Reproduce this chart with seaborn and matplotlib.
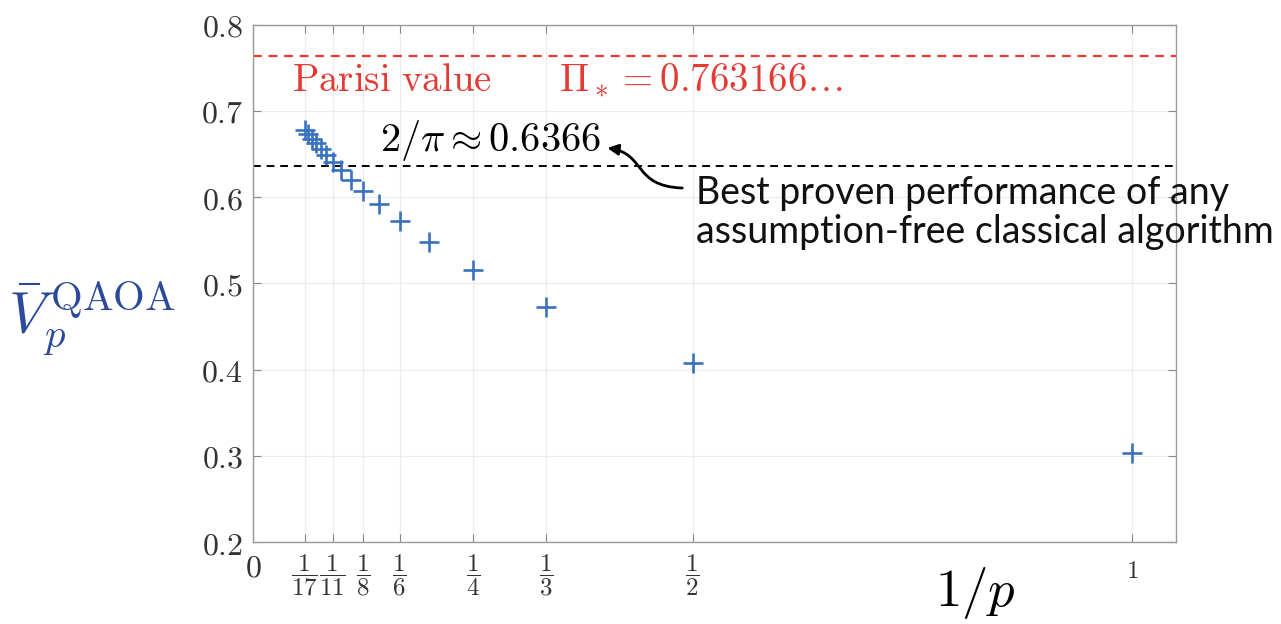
import numpy as np
import pandas as pd
import seaborn as sns
import matplotlib.pyplot as plt
from matplotlib.path import Path
from matplotlib.patches import FancyArrowPatch

sns.set_style("whitegrid")
plt.rcParams['mathtext.fontset'] = 'cm'
plt.rcParams['font.family'] = ['DejaVu Serif']

# QAOA levels and values
p = [1, 2, 3, 4, 5, 6, 7, 8, 9, 10, 11, 12, 13, 14, 15, 16, 17]
v = [0.3033, 0.4075, 0.4726, 0.5157, 0.5476, 0.5721, 0.5915, 0.6073, 0.6203,
     0.6314, 0.6408, 0.6490, 0.6561, 0.6623, 0.6679, 0.6729, 0.6773]
parisi = 0.763166
classical = 2 / np.pi

xtick_p = [17, 11, 8, 6, 4, 3, 2]
yticks = [0.2, 0.3, 0.4, 0.5, 0.6, 0.7, 0.8]

d = pd.DataFrame({'invp': [1 / k for k in p], 'V': v})

fig = plt.figure(figsize=(12.81, 6.24), dpi=100)
ax = fig.add_axes([0.1975, 0.1314, 0.7206, 0.8290])

ax.axhline(parisi, color='#e53a33', ls=(0, (4, 3)), lw=1.6, zorder=1)
ax.axhline(classical, color='black', ls=(0, (4, 3)), lw=1.4, zorder=1)

sns.scatterplot(data=d, x='invp', y='V', marker='+', s=200, color='#3a72bf',
                linewidth=1.9, ax=ax, zorder=3)

ax.set_xlim(0, 1.05)
ax.set_ylim(0.2, 0.8)

xt = [0] + [1 / k for k in xtick_p] + [1]
ax.set_xticks(xt)
ax.set_xticklabels([''] * len(xt))
xtr = ax.get_xaxis_transform()
for k in xtick_p:
    ax.text(1 / k, -0.02, r'$\dfrac{1}{%d}$' % k, transform=xtr,
            ha='center', va='top', fontsize=18, color='#333333')
ax.text(0, -0.02, r'$0$', transform=xtr, ha='center', va='top',
        fontsize=23, color='#333333')
ax.text(1, -0.035, r'$1$', transform=xtr, ha='center', va='top',
        fontsize=18, color='#333333')

ax.set_yticks(yticks)
ax.set_yticklabels([r'$%.1f$' % t for t in yticks], fontsize=23, color='#333333')

ax.tick_params(direction='in', length=6, width=0.8, color='#888888',
               top=True, right=True, bottom=True, left=True, pad=7)
ax.grid(color='#ececec', lw=0.9)
for s in ax.spines.values():
    s.set_color('#999999')
    s.set_linewidth(1.0)

ax.set_xlabel('')
ax.set_ylabel('')
fig.text(0.006, 0.49, r'$\bar{V}_p^{\,\mathrm{QAOA}}$', fontsize=42, color='#2d4a9a',
         ha='left', va='center')
fig.text(0.761, 0.05, r'$1/p$', fontsize=38, color='black', ha='center', va='center')

ax.text(0.044, 0.736, r'$\mathrm{Parisi\ value}\qquad\Pi_* = 0.763166\ldots$',
        color='#e53a33', fontsize=28, va='center')
ax.text(0.1445, 0.666, r'$2/\pi \approx 0.6366$', color='black', fontsize=29, va='center')

# curved S-shaped pointer from the note to the 2/pi label
tail = (0.4883, 0.6106)
head = (0.4030, 0.6570)
arrow_path = Path([tail, (0.432, 0.6125), (0.447, 0.6505), head],
                  [Path.MOVETO, Path.CURVE4, Path.CURVE4, Path.CURVE4])
ax.add_patch(FancyArrowPatch(path=arrow_path, arrowstyle='-|>', color='black',
                             lw=2.0, mutation_scale=16, zorder=4))
ax.text(0.504, 0.5827, 'Best proven performance of any\nassumption-free classical algorithm',
        family=['Lato', 'DejaVu Sans'], fontsize=27, va='center', ha='left',
        linespacing=1.1, clip_on=False, color='#111111')

fig.savefig('out.png', dpi=100)
